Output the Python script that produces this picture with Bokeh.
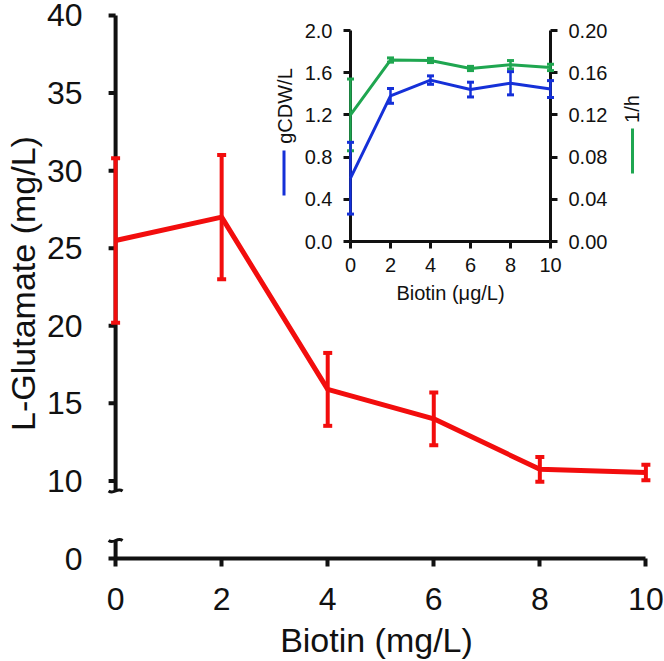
import math

from bokeh.core.properties import value
from bokeh.embed import file_html
from bokeh.models import FixedTicker, LinearAxis, PrintfTickFormatter, Range1d
from bokeh.plotting import figure
from bokeh.resources import INLINE

# ---- main series: L-glutamate titre against biotin dose ----
biotin_mg = [0, 2, 4, 6, 8, 10]
glutamate = [25.5, 27.0, 15.9, 14.0, 10.75, 10.55]
glutamate_err = [5.3, 4.0, 2.35, 1.7, 0.8, 0.5]

# ---- inset series: biomass (left axis) and growth rate (right axis) ----
biotin_ug = [0, 2, 4, 6, 8, 10]
biomass = [0.60, 1.38, 1.53, 1.44, 1.50, 1.445]
biomass_err = [0.34, 0.07, 0.04, 0.07, 0.11, 0.08]
growth = [0.120, 0.172, 0.1716, 0.164, 0.1675, 0.165]
growth_err = [0.034, 0.002, 0.002, 0.002, 0.004, 0.003]

# ---- tick labels ----
main_x_ticks = [0, 2, 4, 6, 8, 10]
main_y_ticks = [10, 15, 20, 25, 30, 35, 40]
main_y_zero_label = "0"          # shown one step below 10 on the broken axis
inset_x_ticks = [0, 2, 4, 6, 8, 10]
inset_left_ticks = [0.0, 0.4, 0.8, 1.2, 1.6, 2.0]
inset_right_ticks = [0.00, 0.04, 0.08, 0.12, 0.16, 0.20]

RED = "#f20d0d"
BLUE = "#1530d8"
GREEN = "#1fa650"
INK = "#111111"
FONT = "Liberation Sans"

# ---- layout (pixels) ----
W, H = 664, 661
B_LEFT, B_RIGHT, B_TOP, B_BOTTOM = 96, 8, 8, 103
FX0, FX1 = B_LEFT, W - B_RIGHT          # frame left / right
FY0, FY1 = B_TOP, H - B_BOTTOM          # frame top / bottom

X_START, X_END = -0.36, 10.2
Y_BREAK_ZERO = 5                        # where the "0" of the broken axis sits
Y_END = 40.45
PX_X = (FX1 - FX0) / (X_END - X_START)
PX_Y = (FY1 - FY0) / (Y_END - Y_BREAK_ZERO)


def extra_range(v0, v1, p0, p1, f0, f1):
    """Range whose value v0 lands on pixel p0 and v1 on p1, for a frame f0..f1."""
    k = (v1 - v0) / (p1 - p0)
    return Range1d(start=v0 + (f0 - p0) * k, end=v0 + (f1 - p0) * k)


p = figure(
    width=W, height=H,
    x_range=Range1d(X_START, X_END),
    y_range=Range1d(Y_BREAK_ZERO, Y_END),
    output_backend="svg", toolbar_location=None,
    min_border_left=B_LEFT, min_border_right=B_RIGHT,
    min_border_top=B_TOP, min_border_bottom=B_BOTTOM,
    outline_line_color=None,
    background_fill_color="white", border_fill_color="white",
)
p.grid.visible = False

# ---- main x axis ----
xa = p.xaxis[0]
xa.ticker = FixedTicker(ticks=main_x_ticks)
xa.bounds = (-7 / PX_X, 10)
xa.axis_line_width = 4
xa.axis_line_color = INK
xa.major_tick_out = 8
xa.major_tick_in = 0
xa.major_tick_line_width = 4
xa.major_tick_line_color = INK
xa.minor_tick_line_color = None
xa.major_label_standoff = 21
xa.major_label_text_font = FONT
xa.major_label_text_font_size = "32px"
xa.major_label_text_color = INK
xa.axis_label = "Biotin (mg/L)"
xa.axis_label_text_font = FONT
xa.axis_label_text_font_size = "34px"
xa.axis_label_text_font_style = "normal"
xa.axis_label_text_color = INK
xa.axis_label_standoff = 8

# ---- main y axis (labels from Bokeh, line drawn below with a break) ----
ya = p.yaxis[0]
ya.ticker = FixedTicker(ticks=[Y_BREAK_ZERO] + main_y_ticks)
ya.major_label_overrides = {Y_BREAK_ZERO: main_y_zero_label}
ya.axis_line_color = None
ya.major_tick_line_color = None
ya.minor_tick_line_color = None
ya.major_tick_out = 0
ya.major_tick_in = 0
ya.major_label_standoff = 14
ya.major_label_text_font = FONT
ya.major_label_text_font_size = "32px"
ya.major_label_text_color = INK
ya.axis_label = "L-Glutamate (mg/L)"
ya.axis_label_text_font = FONT
ya.axis_label_text_font_size = "34px"
ya.axis_label_text_font_style = "normal"
ya.axis_label_text_color = INK
ya.axis_label_standoff = 2

# broken y-axis line, its ticks and the two break marks
brk_hi = 10 - 10 / PX_Y
brk_lo = Y_BREAK_ZERO + 18 / PX_Y
p.segment(x0=[0, 0], y0=[Y_BREAK_ZERO, brk_hi], x1=[0, 0], y1=[brk_lo, main_y_ticks[-1]],
          line_width=4, line_color=INK)
tick_len = 7 / PX_X
p.segment(x0=[-tick_len] * len(main_y_ticks), y0=main_y_ticks,
          x1=[0] * len(main_y_ticks), y1=main_y_ticks,
          line_width=4, line_color=INK)
mw, mh = 7 / PX_X, 4 / PX_Y
for yb in (brk_hi, brk_lo):
    p.bezier(x0=[-mw], y0=[yb], x1=[mw], y1=[yb],
             cx0=[-mw * 0.2], cy0=[yb - mh], cx1=[mw * 0.2], cy1=[yb + mh],
             line_width=3, line_color=INK)

# ---- main series ----
g_lo = [v - e for v, e in zip(glutamate, glutamate_err)]
g_hi = [v + e for v, e in zip(glutamate, glutamate_err)]
p.line(biotin_mg, glutamate, line_width=5, line_color=RED, line_join="round")
p.segment(x0=biotin_mg, y0=g_lo, x1=biotin_mg, y1=g_hi, line_width=4, line_color=RED)
p.scatter(biotin_mg + biotin_mg, g_lo + g_hi, marker="dash", size=9,
          line_width=4, line_color=RED)

# ---- inset: ranges placed inside the main frame ----
IX0_PX, IX1_PX = 350, 550               # inset x = 0 and x = 10
IY0_PX, IY1_PX = 241, 30                # inset y = 0 and y = top
p.extra_x_ranges = {"ix": extra_range(0, 10, IX0_PX, IX1_PX, FX0, FX1)}
p.extra_y_ranges = {
    "iyl": extra_range(0, 2.0, IY0_PX, IY1_PX, FY1, FY0),
    "iyr": extra_range(0, 0.20, IY0_PX, IY1_PX, FY1, FY0),
}
IPX_X = (IX1_PX - IX0_PX) / 10
IPX_YL = (IY0_PX - IY1_PX) / 2.0
IPX_YR = (IY0_PX - IY1_PX) / 0.20


def style_inset_axis(ax):
    ax.axis_line_width = 3
    ax.axis_line_color = INK
    ax.major_tick_out = 7
    ax.major_tick_in = 0
    ax.major_tick_line_width = 3
    ax.major_tick_line_color = INK
    ax.minor_tick_line_color = None
    ax.minor_tick_out = 0
    ax.major_label_text_font = FONT
    ax.major_label_text_font_size = "20px"
    ax.major_label_text_color = INK
    ax.axis_label_text_font = FONT
    ax.axis_label_text_font_size = "20px"
    ax.axis_label_text_font_style = "normal"
    ax.axis_label_text_color = INK


ax_l = LinearAxis(x_range_name="ix", y_range_name="iyl", fixed_location=0,
                  bounds=(0, 2.0), ticker=FixedTicker(ticks=inset_left_ticks),
                  formatter=PrintfTickFormatter(format="%.1f"))
style_inset_axis(ax_l)
ax_l.major_label_standoff = 11
p.add_layout(ax_l, "left")

ax_r = LinearAxis(x_range_name="ix", y_range_name="iyr", fixed_location=10,
                  bounds=(0, 0.20), ticker=FixedTicker(ticks=inset_right_ticks),
                  formatter=PrintfTickFormatter(format="%.2f"))
style_inset_axis(ax_r)
ax_r.major_label_standoff = 11
p.add_layout(ax_r, "right")

ax_b = LinearAxis(x_range_name="ix", y_range_name="iyl", fixed_location=0,
                  bounds=(0, 10), ticker=FixedTicker(ticks=inset_x_ticks))
style_inset_axis(ax_b)
ax_b.major_label_standoff = 9
ax_b.axis_label = "Biotin (μg/L)"
ax_b.axis_label_standoff = 7
p.add_layout(ax_b, "below")


def inset_series(xs, ys, errs, color, yname):
    lo = [v - e for v, e in zip(ys, errs)]
    hi = [v + e for v, e in zip(ys, errs)]
    kw = dict(x_range_name="ix", y_range_name=yname, level="overlay")
    p.line(xs, ys, line_width=3, line_color=color, **kw)
    p.segment(x0=xs, y0=lo, x1=xs, y1=hi, line_width=2.5, line_color=color, **kw)
    p.scatter(xs + xs, lo + hi, marker="dash", size=7, line_width=3,
              line_color=color, **kw)


inset_series(biotin_ug, growth, growth_err, GREEN, "iyr")
inset_series(biotin_ug, biomass, biomass_err, BLUE, "iyl")

# rotated inset axis titles, each with a short key bar in its series colour
p.text(x=[0], y=[1.0], text=["gCDW/L"], angle=math.pi / 2,
       x_offset=-66, y_offset=-30, text_align="center", text_baseline="middle",
       text_font=value(FONT), text_font_size="20px", text_color=INK,
       x_range_name="ix", y_range_name="iyl")
p.segment(x0=[-66.5 / IPX_X], x1=[-66.5 / IPX_X],
          y0=[(IY0_PX - 150) / IPX_YL], y1=[(IY0_PX - 195) / IPX_YL],
          line_width=3, line_color=BLUE, x_range_name="ix", y_range_name="iyl")

p.text(x=[10], y=[0.10], text=["1/h"], angle=math.pi / 2,
       x_offset=81, y_offset=-27, text_align="center", text_baseline="middle",
       text_font=value(FONT), text_font_size="20px", text_color=INK,
       x_range_name="ix", y_range_name="iyr")
p.segment(x0=[10 + 82 / IPX_X], x1=[10 + 82 / IPX_X],
          y0=[(IY0_PX - 128) / IPX_YR], y1=[(IY0_PX - 173) / IPX_YR],
          line_width=3, line_color=GREEN, x_range_name="ix", y_range_name="iyr")

open("out.html", "w").write(file_html(p, INLINE))
